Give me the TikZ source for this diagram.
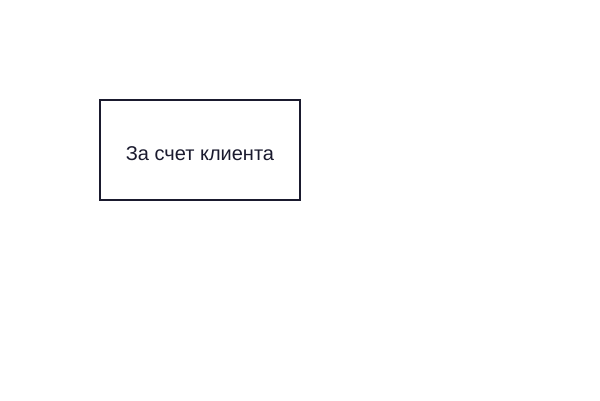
\documentclass[tikz,border=0pt]{standalone}
\usepackage{fontspec}
\setmainfont{Liberation Sans}
\usepackage{tikz}
\definecolor{inkdark}{HTML}{1A1A2E}

\begin{document}
\begin{tikzpicture}[x=1pt,y=-1pt]
      \useasboundingbox[fill=white] (0,0) rectangle (600,400);
      \node[draw=inkdark,line width=2pt,minimum width=200pt,minimum height=100pt] (payer) at (200,150) {};
      \node[text=inkdark,inner sep=0pt,font=\fontsize{20pt}{24pt}\selectfont] (payertext) at (200,154) {За счет клиента};
  \end{tikzpicture}
\end{document}
